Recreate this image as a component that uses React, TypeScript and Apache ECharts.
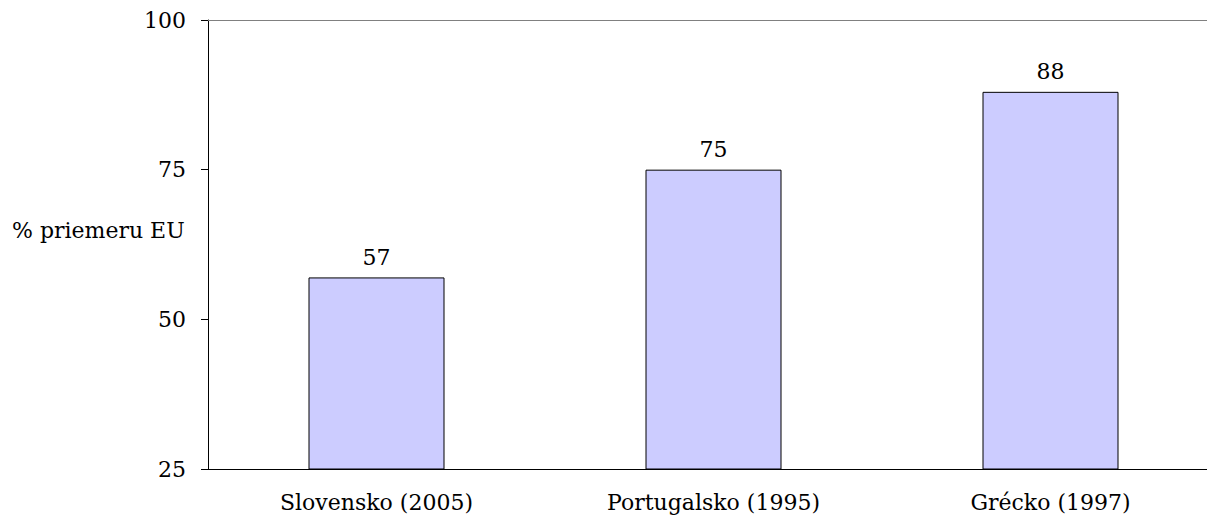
import React, { useEffect, useRef } from "react";
import * as echarts from "echarts";

const categories = ["Slovensko (2005)", "Portugalsko (1995)", "Grécko (1997)"];
const values = [57, 75, 88];
const yTicks = { min: 25, max: 100, interval: 25 };
const yAxisTitle = "% priemeru EU";

const FONT = "Georgia, 'DejaVu Serif', serif";
const FS = 22;

export default function App() {
  const ref = useRef<HTMLDivElement>(null);
  useEffect(() => {
    if (!ref.current) return;
    const chart = echarts.init(ref.current, null, { renderer: "svg" });
    chart.setOption({
      animation: false,
      backgroundColor: "#ffffff",
      grid: { left: 208, top: 20, bottom: 49, right: 0, containLabel: false },
      xAxis: {
        type: "category",
        data: categories,
        axisLine: { show: true, lineStyle: { color: "#000", width: 1 } },
        axisTick: { show: false },
        axisLabel: { color: "#000", fontSize: FS, fontFamily: FONT, margin: 22 },
      },
      yAxis: {
        type: "value",
        min: yTicks.min,
        max: yTicks.max,
        interval: yTicks.interval,
        axisLine: { show: true, lineStyle: { color: "#000", width: 1 } },
        axisTick: { show: true, length: 7, lineStyle: { color: "#000" } },
        splitLine: { show: false },
        axisLabel: { color: "#000", fontSize: FS, fontFamily: FONT, margin: 22 },
      },
      graphic: [
        {
          type: "text",
          x: 12,
          y: 230,
          style: {
            text: yAxisTitle,
            fill: "#000",
            fontSize: FS,
            fontFamily: FONT,
            textVerticalAlign: "middle",
          },
        },
      ],
      series: [
        {
          type: "bar",
          data: values,
          barWidth: 136,
          itemStyle: { color: "#CCCCFF", borderColor: "#000", borderWidth: 1 },
          label: {
            show: true,
            position: "top",
            distance: 9,
            color: "#000",
            fontSize: FS,
            fontFamily: FONT,
          },
          markLine: {
            silent: true,
            symbol: "none",
            label: { show: false },
            lineStyle: { color: "#808080", width: 1, type: "solid" },
            data: [{ yAxis: 100 }],
          },
        },
      ],
    });
    return () => chart.dispose();
  }, []);
  return (
    <div
      style={{
        position: "absolute",
        left: 0,
        top: 0,
        width: 1207,
        height: 518,
        overflow: "hidden",
      }}
    >
      <div ref={ref} style={{ width: 1219, height: 518 }} />
    </div>
  );
}
